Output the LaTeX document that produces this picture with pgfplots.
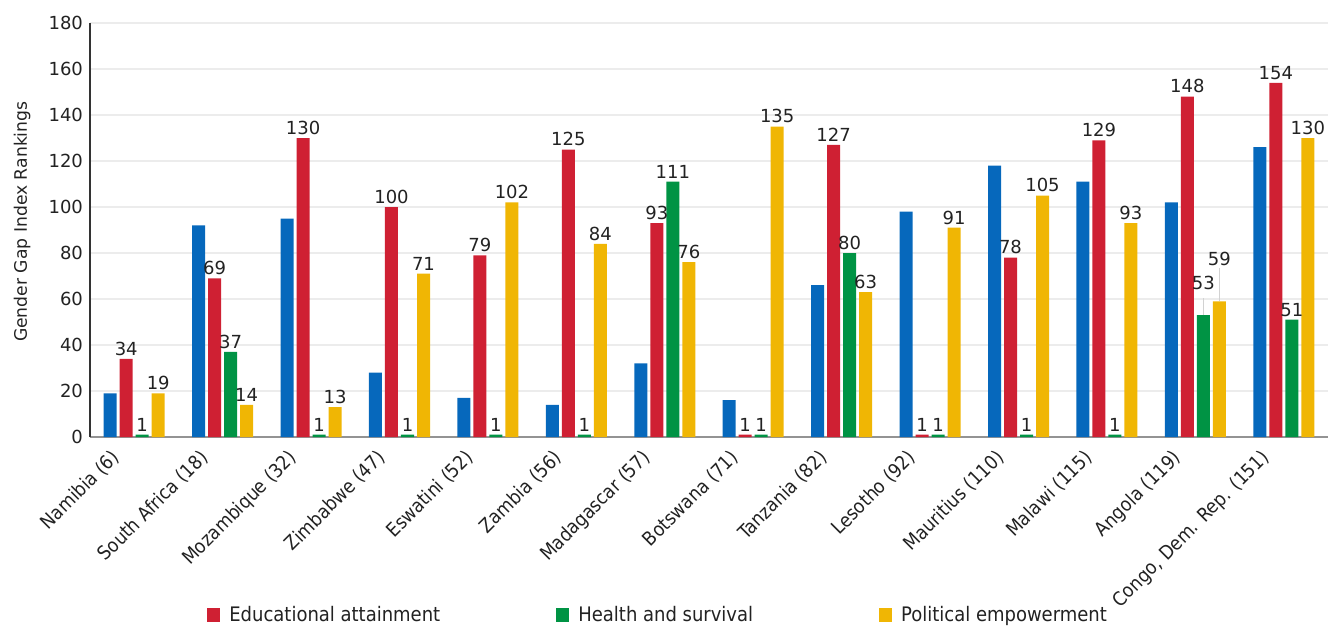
\documentclass[border=0pt]{standalone}
\usepackage{pgfplots}
\usepackage{pgfplotstable}
\pgfplotsset{compat=1.18}
\usepackage{fontspec}
\setmainfont{DejaVu Sans}
\newfontfamily\condfont{DejaVu Sans Condensed}
\definecolor{cblue}{RGB}{6,104,188}
\definecolor{cred}{RGB}{207,32,51}
\definecolor{cgreen}{RGB}{0,147,68}
\definecolor{cyellow}{RGB}{240,182,4}
\definecolor{ctext}{RGB}{34,34,34}
% x  econ  edu  health  pol  (label offsets in pt, leader-line lengths in data units)
\pgfplotstableread{
x  b    r    g    y    og  oy  lg   ly
0  19   34   1    19   0   0   0    0
1  92   69   37   14   0   0   0    0
2  95   130  1    13   0   0   0    0
3  28   100  1    71   0   0   0    0
4  17   79   1    102  0   0   0    0
5  14   125  1    84   0   0   0    0
6  32   93   111  76   0   0   0    0
7  16   1    1    135  0   0   0    0
8  66   127  80   63   0   0   0    0
9  98   1    1    91   0   0   0    0
10 118  78   1    105  0   0   0    0
11 111  129  1    93   0   0   0    0
12 102  148  53   59   11  16  7.4  14.5
13 126  154  51   130  0   0   0    0
}\datatable
\begin{document}
\begin{tikzpicture}
\useasboundingbox (-45pt,-95pt) rectangle (619.5pt,218.5pt);
\begin{axis}[
  at={(0,0)}, anchor=south west,
  scale only axis, width=619pt, height=207pt,
  ybar, bar width=6.5pt,
  xmin=-0.5, xmax=13.5, ymin=0, ymax=180,
  ytick={0,20,...,180},
  xtick={0,...,13},
  xticklabels={Namibia (6),South Africa (18),Mozambique (32),Zimbabwe (47),Eswatini (52),Zambia (56),Madagascar (57),Botswana (71),Tanzania (82),Lesotho (92),Mauritius (110),Malawi (115),Angola (119),{Congo, Dem. Rep. (151)}},
  xticklabel style={font=\condfont\fontsize{9.6}{11}\selectfont, text=ctext, xshift=-12pt, yshift=-4pt, rotate=45, anchor=north east, inner sep=1pt},
  yticklabel style={font=\fontsize{9}{10}\selectfont, text=ctext},
  /pgf/number format/assume math mode=true,
  major tick length=0pt,
  axis x line*=bottom, axis y line*=left,
  x axis line style={-, draw=gray!85, line width=1pt},
  y axis line style={-, draw=black!80, line width=0.6pt},
  ymajorgrids, grid style={draw=gray!15, line width=0.8pt},
  ylabel={Gender Gap Index Rankings},
  ylabel style={font=\fontsize{8.6}{10}\selectfont, text=ctext, at={(axis description cs:-0.0549,0.52)}, anchor=center},
  every node near coord/.append style={font=\fontsize{9}{10}\selectfont, text=ctext, inner sep=1.5pt},
  legend columns=3,
  legend style={draw=none, fill=none, at={(0.0945,-0.43)}, anchor=west, inner sep=0pt,
    font=\condfont\fontsize{10}{11}\selectfont, text=ctext,
    /tikz/every odd column/.append style={column sep=2.5pt},
    /tikz/column 2/.append style={column sep=56pt},
    /tikz/column 4/.append style={column sep=61pt}},
  legend image code/.code={\fill[#1] (0pt,-3.5pt) rectangle (6.5pt,3.5pt);},
]
\addplot[fill=cblue, draw=none, bar shift=-12pt, forget plot] table[x=x, y=b] {\datatable};
\addplot[fill=cred, draw=none, bar shift=-4pt, nodes near coords] table[x=x, y=r] {\datatable};
\addplot[fill=cgreen, draw=none, bar shift=4pt, nodes near coords,
  visualization depends on={\thisrow{og}\as\offg},
  every node near coord/.append style={yshift=\offg pt},
  error bars/.cd, y dir=plus, y explicit, error mark=none,
  error bar style={draw=gray!35, line width=0.6pt}] table[x=x, y=g, y error=lg] {\datatable};
\addplot[fill=cyellow, draw=none, bar shift=12pt, nodes near coords,
  visualization depends on={\thisrow{oy}\as\offy},
  every node near coord/.append style={yshift=\offy pt},
  error bars/.cd, y dir=plus, y explicit, error mark=none,
  error bar style={draw=gray!35, line width=0.6pt}] table[x=x, y=y, y error=ly] {\datatable};
\legend{Educational attainment, Health and survival, Political empowerment}
\end{axis}
\end{tikzpicture}
\end{document}
